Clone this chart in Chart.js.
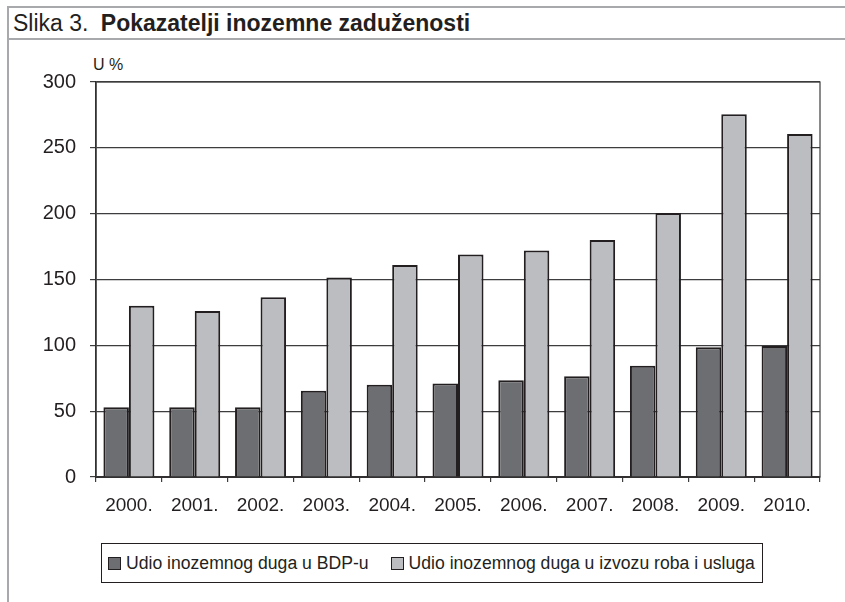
<!DOCTYPE html>
<html lang="hr">
<head>
    <meta charset="UTF-8">
    <meta name="viewport" content="width=device-width, initial-scale=1.0">
    <title>Slika 3</title>
    <script src="https://cdn.jsdelivr.net/npm/chart.js@4.4.1/dist/chart.umd.min.js"></script>
    <style>
        body {
            margin: 0;
            width: 845px;
            height: 602px;
            position: relative;
            overflow: hidden;
            background: #fff;
            font-family: "Liberation Sans", Arial, sans-serif;
            color: #231f20;
        }
        /* gray frame round the figure */
        #frame {
            position: absolute;
            left: 7px;
            top: 6px;
            right: -10px;
            bottom: -10px;
            border-left: 2px solid #a7a9ac;
            border-top: 2px solid #a7a9ac;
        }
        #title {
            position: absolute;
            left: 9px;
            top: 8px;
            right: 0;
            height: 30px;
            line-height: 31px;
            font-size: 23px;
            padding-left: 4px;
            border-bottom: 2px solid #a7a9ac;
            white-space: nowrap;
        }
        #title b { margin-left: 6px; }
        #unit {
            position: absolute;
            left: 93px;
            top: 57px;
            font-size: 16px;
            line-height: 16px;
        }
        #chartBox {
            position: absolute;
            left: 0;
            top: 40px;
            width: 845px;
            height: 490px;
        }
        #legend {
            position: absolute;
            left: 101px;
            top: 543px;
            width: 660px;
            height: 38px;
            border: 1.5px solid #231f20;
            font-size: 17.6px;
            display: flex;
            align-items: center;
        }
        .lg-item { display: flex; align-items: center; }
        .lg-box {
            width: 11px;
            height: 11px;
            border: 1.5px solid #231f20;
            margin-left: 6px;
            margin-right: 5px;
        }
    </style>
</head>
<body>
    <div id="frame"></div>
    <div id="title">Slika 3. <b>Pokazatelji inozemne zaduženosti</b></div>
    <div id="unit">U %</div>
    <div id="chartBox">
        <canvas id="myChart"></canvas>
    </div>
    <div id="legend"></div>
<script>
    // data
    var v_years = ['2000.', '2001.', '2002.', '2003.', '2004.', '2005.', '2006.', '2007.', '2008.', '2009.', '2010.'];
    var v_bdp = [53, 53, 53, 65.5, 70, 71, 73.5, 76.5, 84.5, 98.5, 99.5];
    var v_izvoz = [130, 126, 136.5, 151.5, 161, 169, 172, 180, 200.5, 275.5, 260.5];
    var v_labels = ['Udio inozemnog duga u BDP-u', 'Udio inozemnog duga u izvozu roba i usluga'];
    var v_yTicks = [0, 50, 100, 150, 200, 250, 300];

    var v_colors = ['#6d6e71', '#bcbdc0'];
    var v_edge = '#231f20';
    var v_grid = '#3d3d3f';

    // box round the plot area (right side line)
    var p_plotBorder = {
        id: 'plotBorder',
        beforeDatasetsDraw: function(chart) {
            var a = chart.chartArea;
            var c = chart.ctx;
            c.save();
            c.strokeStyle = v_grid;
            c.lineWidth = 1.2;
            c.strokeRect(a.left, a.top, a.right - a.left, a.bottom - a.top);
            c.restore();
        }
    };

    const ctx = document.getElementById('myChart').getContext('2d');
    const myChart = new Chart(ctx, {
        type: 'bar',
        data: {
            labels: v_years,
            datasets: [{
                label: v_labels[0],
                data: v_bdp,
                backgroundColor: v_colors[0],
                borderColor: v_edge,
                borderWidth: 2,
                barPercentage: 1.0,
                categoryPercentage: 0.775
            },
            {
                label: v_labels[1],
                data: v_izvoz,
                backgroundColor: v_colors[1],
                borderColor: v_edge,
                borderWidth: 2,
                barPercentage: 1.0,
                categoryPercentage: 0.775
            }]
        },
        options: {
            responsive: true,
            maintainAspectRatio: false,
            animation: false,
            layout: {
                padding: { left: 0, right: 25, top: 42, bottom: 0 }
            },
            plugins: {
                legend: { display: false },
                tooltip: { enabled: false }
            },
            scales: {
                x: {
                    grid: {
                        offset: true,
                        drawOnChartArea: false,
                        drawTicks: true,
                        tickLength: 5,
                        color: v_grid,
                        lineWidth: 1.2
                    },
                    border: { color: v_edge, width: 2 },
                    ticks: {
                        padding: 12,
                        color: v_edge,
                        font: { family: 'Liberation Sans', size: 19 }
                    },
                    afterFit: function(scale) { scale.height = 53; }
                },
                y: {
                    min: 0,
                    max: 300,
                    afterBuildTicks: function(scale) {
                        scale.ticks = v_yTicks.map(function(v) { return { value: v }; });
                    },
                    grid: {
                        color: v_grid,
                        lineWidth: 1.2,
                        tickLength: 6
                    },
                    border: { color: v_edge, width: 1.5 },
                    ticks: {
                        padding: 14,
                        color: v_edge,
                        font: { family: 'Liberation Sans', size: 20 }
                    },
                    afterFit: function(scale) { scale.width = 96; }
                }
            }
        },
        plugins: [p_plotBorder]
    });

    // legend in a framed box, built from the dataset labels and colours
    var v_legend = document.getElementById('legend');
    myChart.data.datasets.forEach(function(ds, i) {
        var item = document.createElement('div');
        item.className = 'lg-item';
        if (i > 0) item.style.marginLeft = '16px';
        var box = document.createElement('span');
        box.className = 'lg-box';
        box.style.background = ds.backgroundColor;
        item.appendChild(box);
        item.appendChild(document.createTextNode(ds.label));
        v_legend.appendChild(item);
    });
</script>
</body>
</html>
